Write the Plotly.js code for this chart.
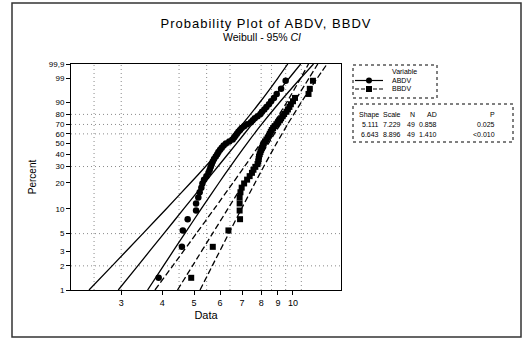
<!DOCTYPE html>
<html><head><meta charset="utf-8">
<script src="https://cdn.plot.ly/plotly-3.0.1.min.js"></script>
<style>html,body{margin:0;padding:0;background:#fff;}#chart{width:524px;height:340px;}
.gtitle{letter-spacing:1px;}</style>
</head><body><div id="chart"></div>
<script>
// plotting positions (percent) for the 49 ranked observations
const pctRank = [1.42,3.44,5.47,7.49,9.51,11.54,13.56,15.59,17.61,19.64,21.66,23.68,25.71,27.73,29.76,31.78,33.81,35.83,37.85,39.88,41.90,43.93,45.95,47.98,50.00,52.02,54.05,56.07,58.10,60.12,62.15,64.17,66.19,68.22,70.24,72.27,74.29,76.32,78.34,80.36,82.39,84.41,86.44,88.46,90.49,92.51,94.53,96.56,98.58];
const abdvData = [3.90,4.59,4.62,4.78,5.07,5.07,5.15,5.20,5.26,5.30,5.36,5.45,5.53,5.58,5.62,5.66,5.70,5.75,5.82,5.88,5.93,6.00,6.07,6.15,6.25,6.40,6.55,6.62,6.68,6.75,6.82,6.90,6.98,7.10,7.25,7.45,7.55,7.65,7.80,7.96,8.05,8.18,8.30,8.45,8.58,8.75,8.92,9.20,9.50];
const bbdvData = [4.90,5.70,6.36,6.90,6.88,6.88,6.88,6.92,6.98,7.10,7.25,7.38,7.50,7.58,7.68,7.80,7.84,7.86,7.88,7.92,7.96,8.00,8.05,8.10,8.15,8.22,8.30,8.38,8.45,8.50,8.56,8.62,8.70,8.80,8.90,9.02,9.12,9.20,9.30,9.40,9.55,9.65,9.75,9.85,10.00,10.14,11.15,11.25,11.50];
// fitted line and 95% confidence bounds (read at these percents)
const ciPct     = [1, 2, 5, 10, 20, 30, 50, 70, 90, 99, 99.9];
const abdvLower = [2.394,2.815,3.491,4.118,4.880,5.418,6.254,7.007,7.941,8.994,9.642];
const abdvFit   = [2.939,3.369,4.043,4.654,5.390,5.908,6.729,7.496,8.511,9.747,10.552];
const abdvUpper = [3.609,4.033,4.682,5.261,5.954,6.444,7.239,8.020,9.121,10.563,11.546];
const bbdvLower = [3.801,4.304,5.077,5.764,6.569,7.120,7.957,8.693,9.584,10.561,11.149];
const bbdvFit   = [4.451,4.944,5.688,6.339,7.097,7.616,8.417,9.147,10.085,11.195,11.899];
const bbdvUpper = [5.212,5.679,6.373,6.971,7.668,8.147,8.904,9.624,10.611,11.865,12.699];
// axes
const yTickPct  = [1,2,3,5,10,20,30,40,50,60,70,80,90,99,99.9];
const yTickText = ['1','2','3','5','10','20','30','40','50','60','70','80','90','99','99,9'];
const xTickVals = [3,4,5,6,7,8,9,10];
const yGridPct  = [2,5,30,60,70,80];
const xGridVals = [2.48,3,4.5,5.46,6.43,8,8.6,9.5,10.6];
// texts
const seriesNames = ['ABDV','BBDV'];
const legendTitle = 'Variable';
const tableHeader = ['Shape','Scale','N','AD','P'];
const tableRow1 = ['5.111','7.229','49','0.858','0.025'];
const tableRow2 = ['6.643','8.896','49','1.410','<0.010'];

const FONT = 'Liberation Sans, Arial, Helvetica, sans-serif';
const wb = p => Math.log(-Math.log(1 - p/100));   // Weibull probability scale
const L=71, R=341, T=64, B=290;
const px = p => (p-L)/(R-L), py = p => (B-p)/(B-T);

const lineTrace = (xs, dash) => ({x: xs, y: ciPct.map(wb), mode:'lines', type:'scatter',
  line:{color:'#000', width:1.3, dash:dash, shape:'spline', smoothing:0.6}, showlegend:false, hoverinfo:'skip'});

const traces = [
  lineTrace(abdvLower,'solid'), lineTrace(abdvFit,'solid'), lineTrace(abdvUpper,'solid'),
  lineTrace(bbdvLower,'6px,3px'), lineTrace(bbdvFit,'6px,3px'), lineTrace(bbdvUpper,'6px,3px'),
  {x: abdvData, y: pctRank.map(wb), mode:'markers', type:'scatter', name: seriesNames[0],
   marker:{symbol:'circle', size:6.5, color:'#000'}, showlegend:false},
  {x: bbdvData, y: pctRank.map(wb), mode:'markers', type:'scatter', name: seriesNames[1],
   marker:{symbol:'square', size:6, color:'#000'}, showlegend:false}
];

const GRID = {color:'#8a8a8a', width:1, dash:'1px,3px'};
const shapes = [];
yGridPct.forEach(p => shapes.push({type:'line', xref:'paper', yref:'y', x0:0, x1:1, y0:wb(p), y1:wb(p),
  line:GRID, layer:'below'}));
xGridVals.forEach(v => shapes.push({type:'line', xref:'x', yref:'paper', x0:v, x1:v, y0:0, y1:1,
  line:GRID, layer:'below'}));
// outer frame
shapes.push({type:'rect', xref:'paper', yref:'paper', x0:px(12), x1:px(521), y0:py(337), y1:py(3),
  line:{color:'#333', width:1.5}});
// legend box & glyphs
shapes.push({type:'rect', xref:'paper', yref:'paper', x0:px(353), x1:px(437), y0:py(98), y1:py(65),
  line:{color:'#000', width:1, dash:'dot'}});
shapes.push({type:'line', xref:'paper', yref:'paper', x0:px(355), x1:px(383), y0:py(80.5), y1:py(80.5),
  line:{color:'#000', width:1.2}});
shapes.push({type:'circle', xref:'paper', yref:'paper', x0:px(366), x1:px(372), y0:py(83.5), y1:py(77.5),
  fillcolor:'#000', line:{color:'#000', width:0}});
shapes.push({type:'line', xref:'paper', yref:'paper', x0:px(355), x1:px(383), y0:py(89), y1:py(89),
  line:{color:'#000', width:1.2, dash:'4px,2px'}});
shapes.push({type:'rect', xref:'paper', yref:'paper', x0:px(366), x1:px(372), y0:py(92), y1:py(86),
  fillcolor:'#000', line:{color:'#000', width:0}});
// table box
shapes.push({type:'rect', xref:'paper', yref:'paper', x0:px(353), x1:px(513), y0:py(142), y1:py(104),
  line:{color:'#000', width:1, dash:'dot'}});

const ann = [];
const txt = (t, x, y, size, anchor) => ann.push({text:t, xref:'paper', yref:'paper', x:px(x), y:py(y),
  xanchor:anchor||'left', yanchor:'middle', showarrow:false, font:{family:FONT, size:size, color:'#000'}});
txt('Weibull - 95% <i>CI</i>', 262, 36.5, 10.5, 'center');
txt(legendTitle, 390, 71, 7);
txt(seriesNames[0], 390, 80.5, 7);
txt(seriesNames[1], 390, 89, 7);
const colRight = [381, 403, 417, 439, 497];
tableHeader.forEach((t,i)=>txt(t, colRight[i], 114.5, 7, 'right'));
tableRow1.forEach((t,i)=>txt(t, colRight[i], 124, 7, 'right'));
tableRow2.forEach((t,i)=>txt(t, colRight[i], 134, 7, 'right'));

const layout = {
  width:524, height:340, paper_bgcolor:'#fff', plot_bgcolor:'#fff',
  margin:{l:L, r:524-R, t:T, b:340-B, pad:0},
  font:{family:FONT, color:'#000'},
  title:{text:'Probability Plot of ABDV, BBDV', font:{family:FONT, size:13, color:'#000'},
    x:266/524, xref:'container', xanchor:'center', y:1-23/340, yref:'container', yanchor:'middle'},
  xaxis:{type:'log', range:[Math.log10(2.11), Math.log10(14)], tickvals:xTickVals, ticktext:xTickVals.map(String),
    ticks:'outside', ticklen:4, tickcolor:'#000', showline:true, linecolor:'#000', linewidth:1, mirror:true,
    showgrid:false, zeroline:false, tickfont:{size:9, family:FONT}, automargin:false,
    title:{text:'Data', font:{size:11, family:FONT}, standoff:4}},
  yaxis:{type:'linear', range:[wb(1), wb(99.9)], tickvals:yTickPct.map(wb), ticktext:yTickText,
    ticks:'outside', ticklen:4, tickcolor:'#000', showline:true, linecolor:'#000', linewidth:1, mirror:true,
    showgrid:false, zeroline:false, tickfont:{size:8, family:FONT}, automargin:false,
    title:{text:'Percent', font:{size:10, family:FONT}, standoff:10}},
  showlegend:false, shapes:shapes, annotations:ann
};
Plotly.newPlot('chart', traces, layout, {displayModeBar:false, staticPlot:true});
</script></body></html>
